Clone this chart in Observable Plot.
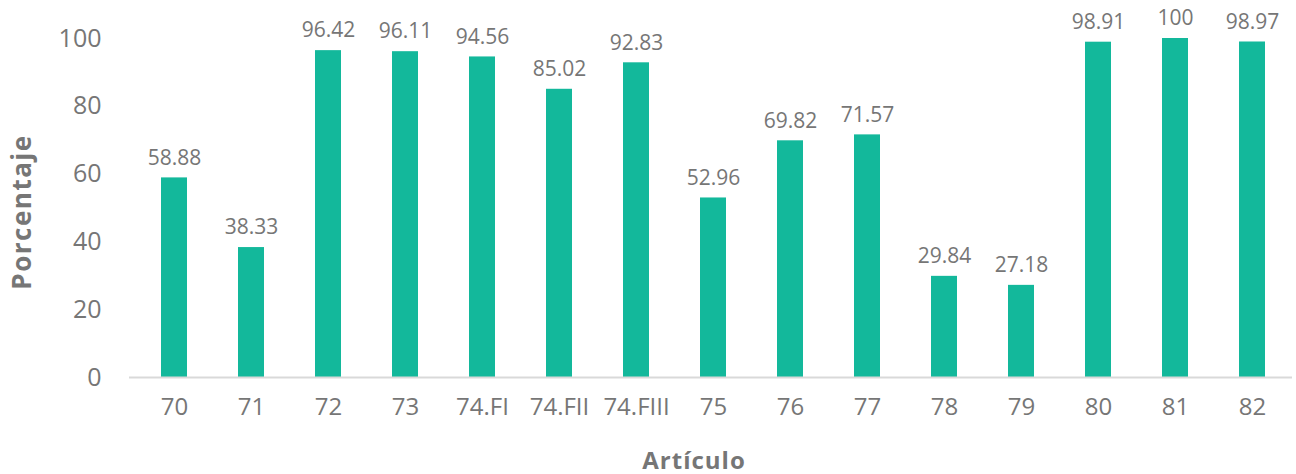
<!DOCTYPE html>
<html><head><meta charset="utf-8">
<script src="https://cdn.jsdelivr.net/npm/d3@7"></script>
<script src="https://cdn.jsdelivr.net/npm/@observablehq/plot@0.6"></script>
<style>body{margin:0;background:#fff;} svg{display:block;} .ttl-y text{letter-spacing:1.5px;} .ttl-x text{letter-spacing:1px;}</style>
</head><body><div id="chart"></div>
<script>
const articulos = ["70","71","72","73","74.FI","74.FII","74.FIII","75","76","77","78","79","80","81","82"];
const porcentajes = [58.88,38.33,96.42,96.11,94.56,85.02,92.83,52.96,69.82,71.57,29.84,27.18,98.91,100,98.97];
const yTicks = [0,20,40,60,80,100];
const data = articulos.map((a,i)=>({a, v: porcentajes[i]}));
const gray = "#767676";
const chart = Plot.plot({
  width: 1296, height: 474,
  marginLeft: 129, marginRight: 0, marginTop: 38, marginBottom: 97,
  style: {fontFamily: "'Open Sans', 'Noto Sans', sans-serif", color: gray, background: "#fff"},
  x: {domain: articulos, paddingInner: 0.666, paddingOuter: 0.333, label: null},
  y: {domain: [0,100], label: null},
  marks: [
    Plot.barY(data, {x: "a", y: "v", fill: "#13B89B"}),
    Plot.ruleY([0], {stroke: "#d9d9d9", strokeWidth: 2, insetRight: 4}),
    Plot.text(data, {x: "a", y: "v", text: d => String(d.v), dy: -20, fontSize: 21, fill: gray}),
    Plot.axisY({ticks: yTicks, tickSize: 0, tickPadding: 28, fontSize: 25, label: null, fill: gray}),
    Plot.axisX({tickSize: 0, tickPadding: 20, fontSize: 24, label: null, fill: gray}),
    Plot.text(["Porcentaje"], {frameAnchor: "left", textAnchor: "middle", dx: -107, dy: 4, rotate: -90, fontSize: 26, fontWeight: "bold", fill: gray, className: "ttl-y"}),
    Plot.text(["Artículo"], {frameAnchor: "bottom", dx: -19, dy: 91, fontSize: 24, fontWeight: "bold", fill: gray, className: "ttl-x"})
  ]
});
document.getElementById("chart").appendChild(chart);
</script></body></html>
